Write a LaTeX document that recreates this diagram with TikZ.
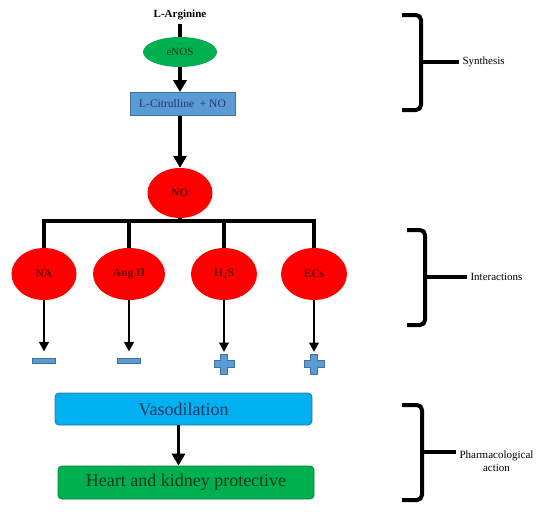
\documentclass[tikz,border=0pt]{standalone}
\usepackage{fontspec}
\setmainfont{Liberation Serif}
\usepackage{tikz}
\usetikzlibrary{calc}
\usetikzlibrary{arrows.meta}
\usetikzlibrary{shapes}
\definecolor{no-red}{RGB}{255, 0, 0}
\definecolor{no-darkred}{RGB}{110, 0, 0}
\definecolor{syn-green}{RGB}{0, 176, 80}
\definecolor{syn-edge}{RGB}{0, 130, 60}
\definecolor{syn-darkgreen}{RGB}{10, 60, 25}
\definecolor{cit-blue}{RGB}{91, 155, 213}
\definecolor{cit-edge}{RGB}{65, 113, 156}
\definecolor{vaso-blue}{RGB}{0, 176, 240}
\definecolor{vaso-text}{RGB}{31, 56, 100}

\begin{document}
\begin{tikzpicture}[x=1pt, y=-1pt,
    flow/.style={line width=3.8pt, -{Triangle[width=13pt, length=12pt]}},
    link/.style={line width=3.8pt},
    effect/.style={line width=2.6pt, -{Triangle[width=9.5pt, length=9.5pt]}},
    agent/.style={ellipse, fill=no-red, text=no-darkred, inner sep=0pt,
      minimum width=66pt, minimum height=52pt, font=\bfseries\fontsize{11.5}{13}\selectfont},
    minus/.style={rectangle, fill=cit-blue, draw=cit-edge, line width=0.6pt,
      minimum width=23pt, minimum height=4.5pt, inner sep=0pt},
    plusarm/.style={fill=cit-blue, draw=cit-edge, line width=0.8pt, line join=miter},
    result/.style={rectangle, rounded corners=4pt, line width=0.8pt,
      minimum height=32pt, font=\fontsize{18}{20}\selectfont},
    brace/.style={line width=4pt, rounded corners=5pt},
    phase/.style={anchor=west, align=center, font=\fontsize{11}{13}\selectfont},
  ]
  \useasboundingbox (0, 0) rectangle (550, 512);

  % synthesis
  \node[font=\bfseries\fontsize{11}{13}\selectfont] (arg) at (180, 15) {L-Arginine};
  \node[ellipse, fill=syn-green, text=syn-darkgreen, minimum width=74pt, minimum height=30pt,
    inner sep=0pt, font=\fontsize{11}{13}\selectfont] (enos) at (180, 52) {eNOS};
  \node[rectangle, fill=cit-blue, draw=cit-edge, line width=0.8pt, minimum width=105pt,
    minimum height=23pt, text=vaso-text, font=\fontsize{11.5}{13}\selectfont] (cit) at (182.5, 104) {L-Citrulline\ \ + NO};
  \draw[link] (arg.south) -- (enos.north);
  \draw[flow] (enos.south) -- (cit.north -| enos.south);

  \node[agent, minimum width=65pt, minimum height=50pt] (no) at (180, 193) {NO};
  \draw[flow] (cit.south -| no.north) -- (no.north);

  % interactions
  \node[agent, minimum width=65pt] (na) at (44, 274) {NA};
  \node[agent, minimum width=72pt] (ang) at (129, 274) {Ang II};
  \node[agent] (hs) at (224, 274) {H\textsubscript{2}S};
  \node[agent] (ecs) at (314, 274) {ECs};

  \coordinate (bus) at (180, 221);
  \draw[link] (no.south) -- (bus);
  \draw[link] (na.north) -- (na.north |- bus) -- (ecs.north |- bus) -- (ecs.north);
  \draw[link] (ang.north |- bus) -- (ang.north);
  \draw[link] (hs.north |- bus) -- (hs.north);

  \node[minus] (na-sign) at (44, 361) {};
  \node[minus] (ang-sign) at (129, 361) {};
  \coordinate (hs-sign) at (224, 364);
  \coordinate (ecs-sign) at (314, 364);
  \foreach \s in {hs-sign, ecs-sign}
    \filldraw[plusarm] ($(\s) + (-3.5, -10)$) -- ++(7, 0) -- ++(0, 6.5) -- ++(6.5, 0) -- ++(0, 7)
      -- ++(-6.5, 0) -- ++(0, 6.5) -- ++(-7, 0) -- ++(0, -6.5) -- ++(-6.5, 0) -- ++(0, -7)
      -- ++(6.5, 0) -- cycle;

  \draw[effect] (na.south) -- ([yshift=7pt]na-sign.north);
  \draw[effect] (ang.south) -- ([yshift=7pt]ang-sign.north);
  \draw[effect] (hs.south) -- ([yshift=12pt]hs-sign);
  \draw[effect] (ecs.south) -- ([yshift=12pt]ecs-sign);

  % pharmacological action
  \node[result, fill=vaso-blue, draw=cit-edge, text=vaso-text, minimum width=257pt] (vaso) at (183.5, 409) {Vasodilation};
  \node[result, fill=syn-green, draw=syn-edge, text=syn-darkgreen, minimum width=256pt,
    minimum height=33pt] (heart) at (186, 482.5) {Heart and kidney protective};
  \draw[flow] ([xshift=-5pt]vaso.south) -- ([xshift=-5pt]vaso.south |- heart.north);

  % braces on the right
  \node[phase] (syn) at (459, 62) {Synthesis};
  \draw[brace] (402, 15) -- (421, 15) -- (421, 110) -- (402, 110);
  \coordinate (syn-tick) at (421, 62);
  \draw[line width=4pt] (syn-tick) -- (syn.west);

  \node[phase] (int) at (467, 277) {Interactions};
  \draw[brace] (407, 230) -- (425, 230) -- (425, 325) -- (407, 325);
  \coordinate (int-tick) at (425, 277);
  \draw[line width=4pt] (int-tick) -- (int.west);

  \node[phase] (pharm) at (456, 461) {Pharmacological\\action};
  \draw[brace] (402, 405) -- (422, 405) -- (422, 500) -- (402, 500);
  \coordinate (pharm-tick) at (422, 452);
  \draw[line width=4pt] (pharm-tick) -- (pharm-tick -| pharm.west);
\end{tikzpicture}
\end{document}
